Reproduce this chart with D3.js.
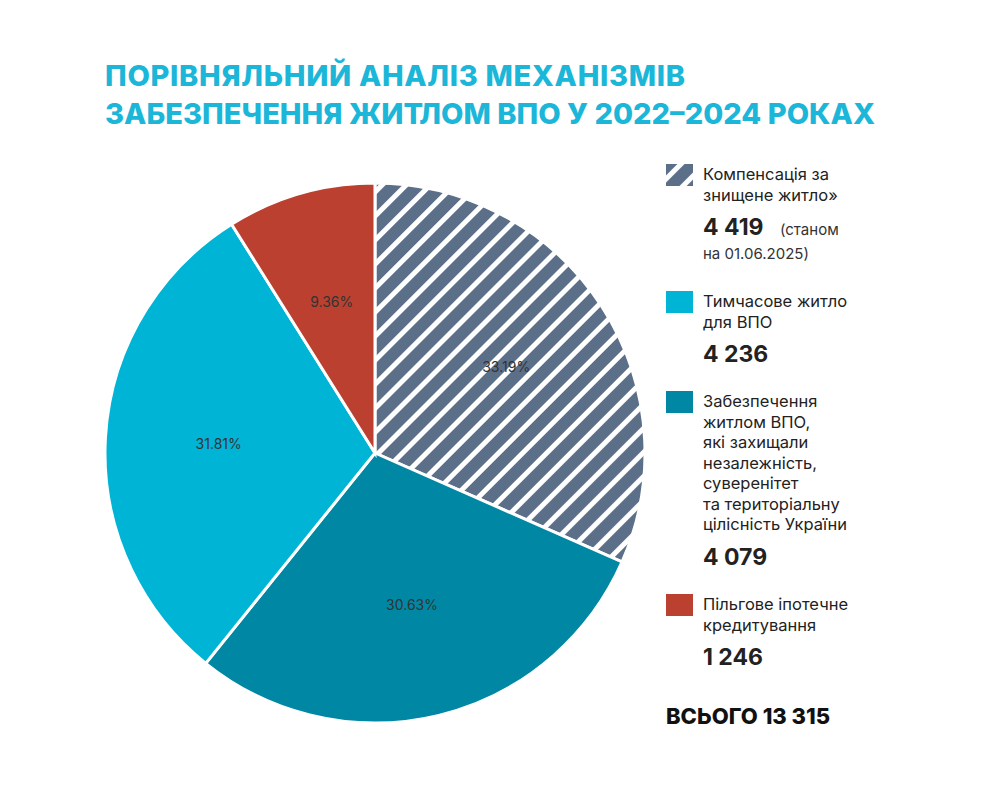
<!DOCTYPE html>
<html><head><meta charset="utf-8">
<script src="https://cdn.jsdelivr.net/npm/d3@7"></script>
<style>body{margin:0;background:#fff}text{font-family:Inter,"Noto Sans",sans-serif}</style>
</head><body><svg id="chart" width="985" height="790"></svg>
<script>
// slices, clockwise from 12 o'clock
var labels = ["Компенсація за знищене житло»", "Забезпечення житлом ВПО", "Тимчасове житло для ВПО", "Пільгове іпотечне кредитування"];
var values = [4419, 4079, 4236, 1246];
var pcts = ["33.19%", "30.63%", "31.81%", "9.36%"];
var colors = ["url(#hatch)", "#0087a4", "#00b4d6", "#bb4030"];

var svg = d3.select("#chart");

var defs = svg.append("defs");
var pat = defs.append("pattern").attr("id", "hatch").attr("patternUnits", "userSpaceOnUse")
    .attr("width", 17).attr("height", 17).attr("patternTransform", "rotate(45)");
pat.append("rect").attr("width", 17).attr("height", 17).attr("fill", "#5c6f89");
pat.append("rect").attr("width", 5).attr("height", 17).attr("fill", "#fff");

// title
svg.append("text").attr("x", 105).attr("y", 86).attr("fill", "#1bb6d8")
    .attr("font-size", 29).attr("font-weight", 800).attr("textLength", 580)
    .text("ПОРІВНЯЛЬНИЙ АНАЛІЗ МЕХАНІЗМІВ");
svg.append("text").attr("x", 105).attr("y", 124).attr("fill", "#1bb6d8")
    .attr("font-size", 29).attr("font-weight", 800).attr("textLength", 770)
    .text("ЗАБЕЗПЕЧЕННЯ ЖИТЛОМ ВПО У 2022–2024 РОКАХ");

// pie
var cx = 375, cy = 453, r = 270;
var pie = d3.pie().sort(null).value(function (d) { return d; });
var arc = d3.arc().innerRadius(0).outerRadius(r);
var labelArc = d3.arc().innerRadius(r * 0.58).outerRadius(r * 0.58);
var g = svg.append("g").attr("transform", "translate(" + cx + "," + cy + ")");
var arcs = pie(values);
g.selectAll("path").data(arcs).enter().append("path")
    .attr("d", arc).attr("fill", function (d, i) { return colors[i]; })
    .attr("stroke", "#fff").attr("stroke-width", 3);
g.selectAll("text.pct").data(arcs).enter().append("text").attr("class", "pct")
    .attr("transform", function (d) { return "translate(" + labelArc.centroid(d) + ")"; })
    .attr("text-anchor", "middle").attr("dy", "0.35em")
    .attr("font-size", 14).attr("fill", "#333")
    .text(function (d, i) { return pcts[i]; });

// legend
var legend = [
    {fill: colors[0], y: 163, lines: ["Компенсація за", "знищене житло»"], num: "4 419", extra: ["(станом", "на 01.06.2025)"]},
    {fill: colors[2], y: 290, lines: ["Тимчасове житло", "для ВПО"], num: "4 236"},
    {fill: colors[1], y: 390, lines: ["Забезпечення", "житлом ВПО,", "які захищали", "незалежність,", "суверенітет", "та територіальну", "цілісність України"], num: "4 079"},
    {fill: colors[3], y: 593, lines: ["Пільгове іпотечне", "кредитування"], num: "1 246"}
];
legend.forEach(function (l) {
    svg.append("rect").attr("x", 666).attr("y", l.y + 1).attr("width", 27).attr("height", 22).attr("fill", l.fill);
    l.lines.forEach(function (t, j) {
        svg.append("text").attr("x", 703).attr("y", l.y + 17 + j * 20.5)
            .attr("font-size", 16.5).attr("fill", "#222").text(t);
    });
    var ny = l.y + 17 + l.lines.length * 20.5 + 14;
    svg.append("text").attr("x", 703).attr("y", ny).attr("font-size", 23)
        .attr("font-weight", 700).attr("fill", "#222").text(l.num);
    if (l.extra) {
        svg.append("text").attr("x", 780).attr("y", ny).attr("font-size", 15).attr("fill", "#333").text(l.extra[0]);
        svg.append("text").attr("x", 703).attr("y", ny + 24).attr("font-size", 15).attr("fill", "#333").text(l.extra[1]);
    }
});
svg.append("text").attr("x", 666).attr("y", 724).attr("font-size", 22)
    .attr("font-weight", 800).attr("fill", "#111").text("ВСЬОГО 13 315");
</script></body></html>
